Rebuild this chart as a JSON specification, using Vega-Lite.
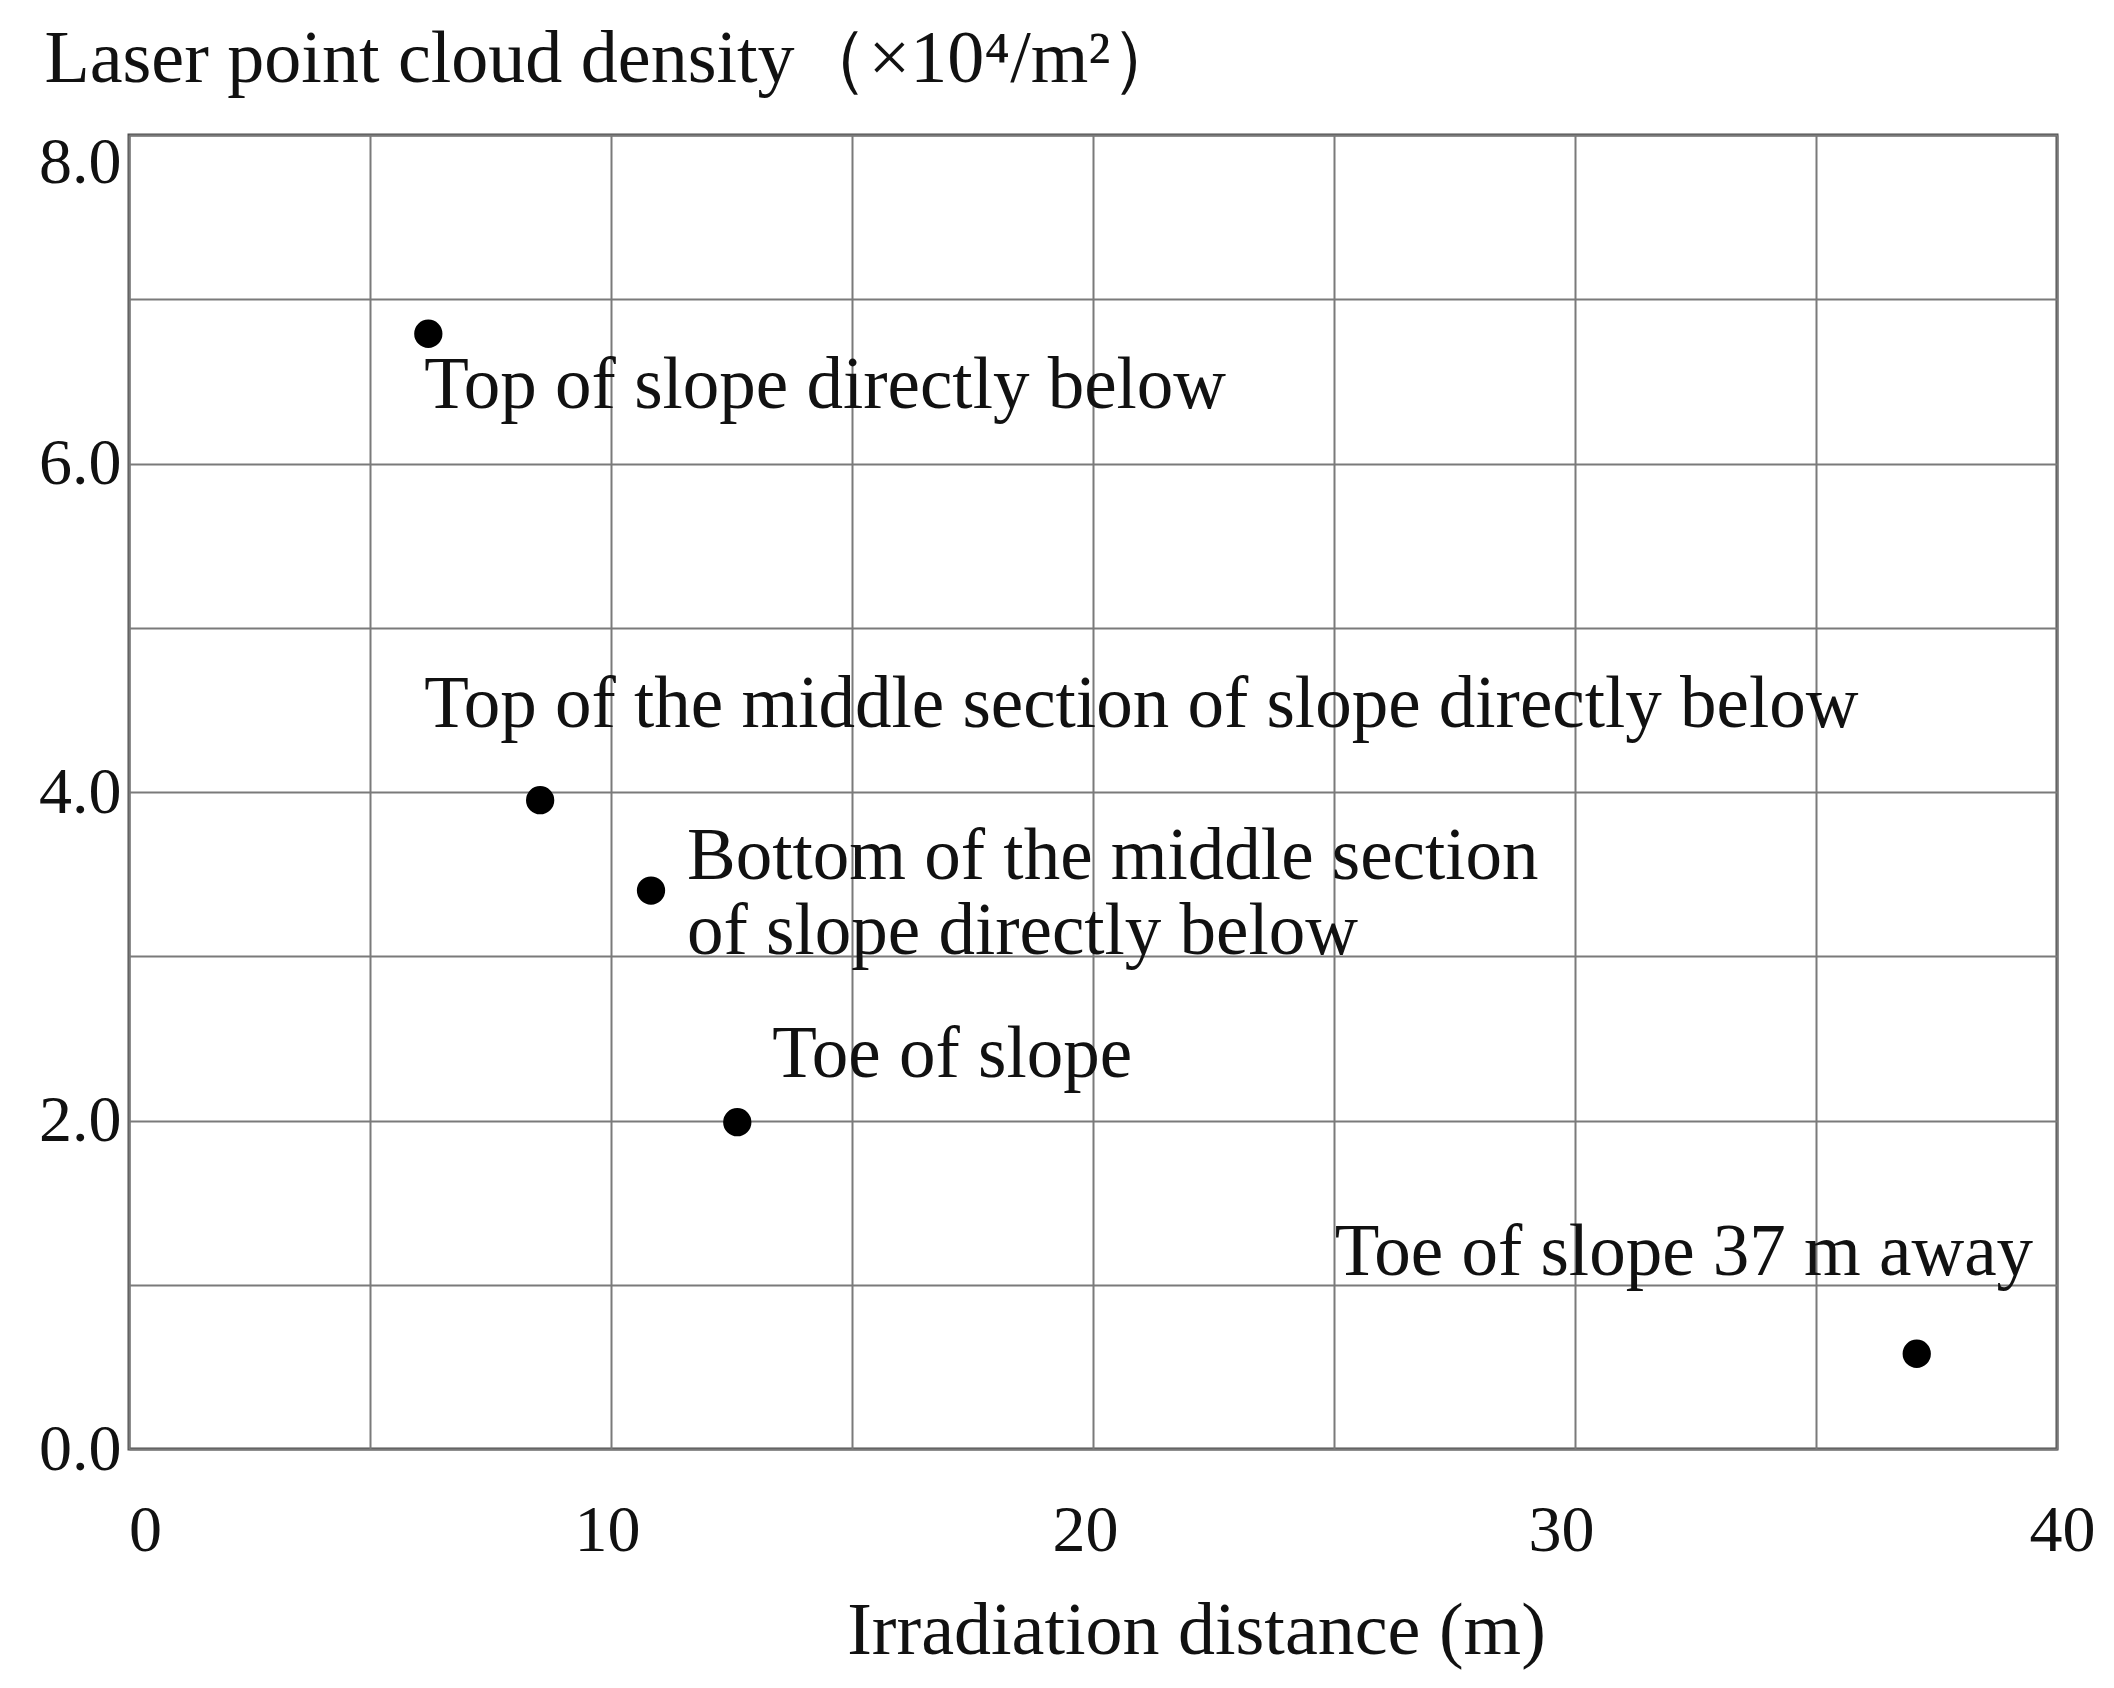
{
  "$schema": "https://vega.github.io/schema/vega-lite/v6.json",
  "width": 1928,
  "height": 1314,
  "autosize": "none",
  "padding": {"left": 129, "top": 135, "right": 57, "bottom": 239},
  "background": "white",
  "config": {
    "view": {"stroke": "#4d4d4d", "strokeWidth": 3},
    "font": "Liberation Serif",
    "text": {"font": "Liberation Serif", "fontSize": 73, "color": "#111111"}
  },
  "data": {
    "values": [
      {"id": "a", "distance": 6.21, "density": 6.79, "label": "Top of slope directly below"},
      {"id": "b", "distance": 8.53, "density": 3.95, "label": "Top of the middle section of slope directly below"},
      {"id": "c", "distance": 10.83, "density": 3.40, "label": "Bottom of the middle section\nof slope directly below"},
      {"id": "d", "distance": 12.62, "density": 1.99, "label": "Toe of slope"},
      {"id": "e", "distance": 37.09, "density": 0.58, "label": "Toe of slope 37 m away"}
    ]
  },
  "encoding": {
    "x": {
      "field": "distance", "type": "quantitative",
      "scale": {"domain": [0, 40], "nice": false, "zero": false},
      "axis": {
        "values": [0, 5, 10, 15, 20, 25, 30, 35, 40],
        "labelExpr": "datum.value % 10 == 0 ? datum.label : ''",
        "labelFlush": false,
        "labelFont": "Liberation Serif", "labelFontSize": 66, "labelColor": "#111111",
        "labelPadding": 49,
        "labelOffset": {"condition": [
          {"test": "datum.value == 0", "value": 16},
          {"test": "datum.value == 10", "value": -4},
          {"test": "datum.value == 20", "value": -8},
          {"test": "datum.value == 30", "value": -14}
        ], "value": 5},
        "ticks": false, "domain": false,
        "grid": true, "gridColor": "#7a7a7a", "gridWidth": 2,
        "title": "Irradiation distance (m)",
        "titleFont": "Liberation Serif", "titleFontSize": 74, "titleFontWeight": "normal", "titleColor": "#111111",
        "titleX": 1067, "titleY": 204, "titleAlign": "center", "titleBaseline": "alphabetic"
      }
    },
    "y": {
      "field": "density", "type": "quantitative",
      "scale": {"domain": [0, 8], "nice": false, "zero": false},
      "axis": {
        "values": [0, 1, 2, 3, 4, 5, 6, 7, 8],
        "labelExpr": "datum.value % 2 == 0 ? format(datum.value, '.1f') : ''",
        "labelFont": "Liberation Serif", "labelFontSize": 66, "labelColor": "#111111",
        "labelPadding": 8,
        "labelOffset": {"condition": {"test": "datum.value == 8", "value": 27}, "value": 0},
        "ticks": false, "domain": false,
        "grid": true, "gridColor": "#7a7a7a", "gridWidth": 2,
        "title": "Laser point cloud density（×10⁴/m²）",
        "titleFont": "Liberation Serif", "titleFontSize": 74, "titleFontWeight": "normal", "titleColor": "#111111",
        "titleAngle": 0, "titleX": -85, "titleY": -54, "titleAlign": "left", "titleBaseline": "alphabetic"
      }
    }
  },
  "layer": [
    {"mark": {"type": "point", "filled": true, "color": "#000000", "opacity": 1, "size": 800, "shape": "circle"}},
    {"transform": [{"filter": "datum.id == 'a'"}], "mark": {"type": "text", "align": "left", "baseline": "alphabetic", "dx": -4, "dy": 74}, "encoding": {"text": {"field": "label"}}},
    {"transform": [{"filter": "datum.id == 'b'"}], "mark": {"type": "text", "align": "left", "baseline": "alphabetic", "dx": -116, "dy": -73}, "encoding": {"text": {"field": "label"}}},
    {"transform": [{"filter": "datum.id == 'c'"}], "mark": {"type": "text", "align": "left", "baseline": "alphabetic", "dx": 36, "dy": -12, "lineBreak": "\n", "lineHeight": 75}, "encoding": {"text": {"field": "label"}}},
    {"transform": [{"filter": "datum.id == 'd'"}], "mark": {"type": "text", "align": "left", "baseline": "alphabetic", "dx": 35, "dy": -45}, "encoding": {"text": {"field": "label"}}},
    {"transform": [{"filter": "datum.id == 'e'"}], "mark": {"type": "text", "align": "left", "baseline": "alphabetic", "dx": -582, "dy": -79}, "encoding": {"text": {"field": "label"}}}
  ]
}
